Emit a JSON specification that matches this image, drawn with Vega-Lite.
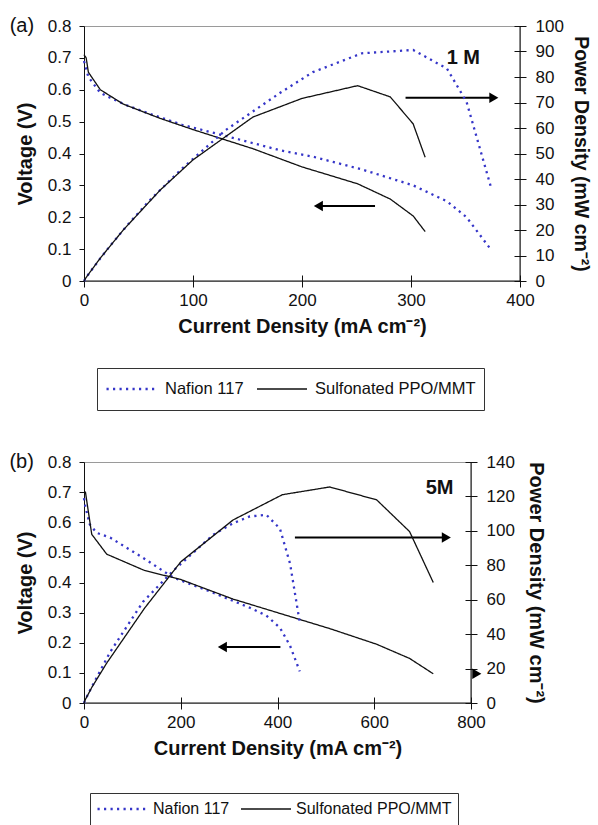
{
  "$schema": "https://vega.github.io/schema/vega-lite/v6.json",
  "background": "white",
  "padding": {"left": 8, "top": 15, "right": 0, "bottom": 0},
  "config": {
    "font": "Liberation Sans",
    "view": {"stroke": "#9a9a9a", "strokeWidth": 1},
    "axis": {"labelFont": "Liberation Sans", "labelFontSize": 17, "labelColor": "#111", "titleFont": "Liberation Sans", "titleFontSize": 20, "titleFontWeight": "bold", "titleColor": "#111", "domainColor": "#111", "tickColor": "#111", "grid": false, "labelFlush": false, "labelOverlap": false},
    "concat": {"spacing": 40}
  },
  "datasets": {
    "a": [
      {"series": "Nafion 117", "I": 0, "V": 0.69, "P": 0},
      {"series": "Nafion 117", "I": 4, "V": 0.64, "P": 2.6},
      {"series": "Nafion 117", "I": 15, "V": 0.59, "P": 8.9},
      {"series": "Nafion 117", "I": 24, "V": 0.575, "P": 13.8},
      {"series": "Nafion 117", "I": 40, "V": 0.55, "P": 22},
      {"series": "Nafion 117", "I": 60, "V": 0.525, "P": 31.5},
      {"series": "Nafion 117", "I": 90, "V": 0.49, "P": 44.1},
      {"series": "Nafion 117", "I": 130, "V": 0.455, "P": 59.2},
      {"series": "Nafion 117", "I": 180, "V": 0.41, "P": 73.8},
      {"series": "Nafion 117", "I": 210, "V": 0.39, "P": 81.9},
      {"series": "Nafion 117", "I": 255, "V": 0.35, "P": 89.3},
      {"series": "Nafion 117", "I": 302, "V": 0.3, "P": 90.6},
      {"series": "Nafion 117", "I": 333, "V": 0.25, "P": 83.3},
      {"series": "Nafion 117", "I": 351, "V": 0.2, "P": 70.2},
      {"series": "Nafion 117", "I": 373, "V": 0.1, "P": 37.3},
      {"series": "Sulfonated PPO/MMT", "I": 0, "V": 0.71, "P": 0},
      {"series": "Sulfonated PPO/MMT", "I": 2, "V": 0.7, "P": 1.4},
      {"series": "Sulfonated PPO/MMT", "I": 4, "V": 0.655, "P": 2.6},
      {"series": "Sulfonated PPO/MMT", "I": 15, "V": 0.6, "P": 9},
      {"series": "Sulfonated PPO/MMT", "I": 36, "V": 0.555, "P": 20},
      {"series": "Sulfonated PPO/MMT", "I": 70, "V": 0.51, "P": 35.7},
      {"series": "Sulfonated PPO/MMT", "I": 100, "V": 0.475, "P": 47.5},
      {"series": "Sulfonated PPO/MMT", "I": 155, "V": 0.415, "P": 64.3},
      {"series": "Sulfonated PPO/MMT", "I": 200, "V": 0.358, "P": 71.6},
      {"series": "Sulfonated PPO/MMT", "I": 251, "V": 0.305, "P": 76.6},
      {"series": "Sulfonated PPO/MMT", "I": 281, "V": 0.257, "P": 72.2},
      {"series": "Sulfonated PPO/MMT", "I": 302, "V": 0.204, "P": 61.6},
      {"series": "Sulfonated PPO/MMT", "I": 313, "V": 0.155, "P": 48.5}
    ],
    "b": [
      {"series": "Nafion 117", "I": 0, "V": 0.68, "P": 0},
      {"series": "Nafion 117", "I": 3, "V": 0.65, "P": 2},
      {"series": "Nafion 117", "I": 12, "V": 0.593, "P": 7.1},
      {"series": "Nafion 117", "I": 26, "V": 0.565, "P": 14.7},
      {"series": "Nafion 117", "I": 54, "V": 0.549, "P": 29.6},
      {"series": "Nafion 117", "I": 122, "V": 0.482, "P": 58.8},
      {"series": "Nafion 117", "I": 185, "V": 0.416, "P": 77},
      {"series": "Nafion 117", "I": 267, "V": 0.366, "P": 97.7},
      {"series": "Nafion 117", "I": 308, "V": 0.339, "P": 104.4},
      {"series": "Nafion 117", "I": 343, "V": 0.316, "P": 108.4},
      {"series": "Nafion 117", "I": 377, "V": 0.29, "P": 109.3},
      {"series": "Nafion 117", "I": 405, "V": 0.25, "P": 101.3},
      {"series": "Nafion 117", "I": 426, "V": 0.19, "P": 80.9},
      {"series": "Nafion 117", "I": 446, "V": 0.105, "P": 46.8},
      {"series": "Sulfonated PPO/MMT", "I": 0, "V": 0.7, "P": 0},
      {"series": "Sulfonated PPO/MMT", "I": 3, "V": 0.7, "P": 2.1},
      {"series": "Sulfonated PPO/MMT", "I": 16, "V": 0.56, "P": 9},
      {"series": "Sulfonated PPO/MMT", "I": 47, "V": 0.494, "P": 23.2},
      {"series": "Sulfonated PPO/MMT", "I": 125, "V": 0.44, "P": 55},
      {"series": "Sulfonated PPO/MMT", "I": 200, "V": 0.41, "P": 82},
      {"series": "Sulfonated PPO/MMT", "I": 308, "V": 0.345, "P": 106.3},
      {"series": "Sulfonated PPO/MMT", "I": 410, "V": 0.295, "P": 121},
      {"series": "Sulfonated PPO/MMT", "I": 508, "V": 0.247, "P": 125.5},
      {"series": "Sulfonated PPO/MMT", "I": 605, "V": 0.195, "P": 118},
      {"series": "Sulfonated PPO/MMT", "I": 673, "V": 0.148, "P": 99.6},
      {"series": "Sulfonated PPO/MMT", "I": 722, "V": 0.097, "P": 70}
    ],
    "arrowsA": [
      {"x1": 267, "x2": 215, "y": 0.235, "dir": "left"},
      {"x1": 295, "x2": 376, "y": 0.575, "dir": "right"}
    ],
    "arrowsB": [
      {"x1": 406, "x2": 286, "y": 0.186, "dir": "left"},
      {"x1": 436, "x2": 749, "y": 0.549, "dir": "right"},
      {"x1": 812, "x2": 812, "y": 0.097, "dir": "right"}
    ],
    "labelsA": [{"x": -57, "y": 0.8, "t": "(a)"}],
    "boldA": [{"x": 348, "y": 0.7, "t": "1 M"}],
    "labelsB": [{"x": -129, "y": 0.8, "t": "(b)"}],
    "boldB": [{"x": 735, "y": 0.715, "t": "5M"}]
  },
  "resolve": {"scale": {"color": "independent", "strokeDash": "independent", "strokeWidth": "independent"}},
  "vconcat": [
    {
      "width": 436,
      "height": 255,
      "resolve": {"scale": {"y": "independent"}},
      "layer": [
        {
          "layer": [
            {
              "data": {"name": "a"},
              "mark": {"type": "line"},
              "encoding": {
                "x": {"field": "I", "type": "quantitative", "scale": {"domain": [0, 400], "nice": false},
                  "axis": {"title": "Current Density (mA cm⁻²)", "values": [0, 100, 200, 300, 400], "offset": -6, "tickSize": 12, "domain": false, "labelPadding": 5, "titlePadding": 8, "labelOverlap": false}},
                "y": {"field": "V", "type": "quantitative", "scale": {"domain": [0, 0.8], "nice": false},
                  "axis": {"orient": "left", "title": "Voltage (V)", "values": [0, 0.1, 0.2, 0.3, 0.4, 0.5, 0.6, 0.7, 0.8], "tickCount": 9, "labelOverlap": false, "format": ".1~f", "tickSize": 5, "labelPadding": 8, "titlePadding": 12}},
                "color": {"field": "series", "type": "nominal",
                  "scale": {"domain": ["Nafion 117", "Sulfonated PPO/MMT"], "range": ["#3535c8", "#111111"]},
                  "legend": {"orient": "none", "legendX": 13, "legendY": 342, "direction": "horizontal", "title": null, "strokeColor": "#333", "padding": 8, "symbolType": "stroke", "symbolSize": 2500, "clipHeight": 26, "labelFontSize": 16.5, "labelFont": "Liberation Sans", "labelColor": "#111", "labelOffset": 7, "columnPadding": 12, "labelLimit": 300}},
                "strokeDash": {"field": "series", "type": "nominal", "scale": {"domain": ["Nafion 117", "Sulfonated PPO/MMT"], "range": [[2.2, 4.3], [1, 0]]}},
                "strokeWidth": {"field": "series", "type": "nominal", "scale": {"domain": ["Nafion 117", "Sulfonated PPO/MMT"], "range": [2.3, 1.3]}}
              }
            },
            {
              "data": {"values": [{}]},
              "mark": {"type": "rule", "color": "#111", "strokeWidth": 1},
              "encoding": {"y": {"datum": 0}}
            },
            {
              "data": {"name": "arrowsA"},
              "mark": {"type": "rule", "color": "#000", "strokeWidth": 2},
              "encoding": {"x": {"field": "x1", "type": "quantitative"}, "x2": {"field": "x2"}, "y": {"field": "y", "type": "quantitative"}}
            },
            {
              "data": {"name": "arrowsA"},
              "mark": {"type": "point", "filled": true, "color": "#000", "opacity": 1, "size": 110},
              "encoding": {"x": {"field": "x2", "type": "quantitative"}, "y": {"field": "y", "type": "quantitative"},
                "shape": {"field": "dir", "type": "nominal", "scale": {"domain": ["left", "right"], "range": ["triangle-left", "triangle-right"]}, "legend": null}}
            },
            {
              "data": {"name": "labelsA"},
              "mark": {"type": "text", "fontSize": 20, "color": "#111", "font": "Liberation Sans"},
              "encoding": {"x": {"field": "x", "type": "quantitative"}, "y": {"field": "y", "type": "quantitative"}, "text": {"field": "t"}}
            },
            {
              "data": {"name": "boldA"},
              "mark": {"type": "text", "fontSize": 20, "fontWeight": "bold", "color": "#111", "font": "Liberation Sans"},
              "encoding": {"x": {"field": "x", "type": "quantitative"}, "y": {"field": "y", "type": "quantitative"}, "text": {"field": "t"}}
            }
          ]
        },
        {
          "layer": [
            {
              "data": {"name": "a"},
              "mark": {"type": "line"},
              "encoding": {
                "x": {"field": "I", "type": "quantitative"},
                "y": {"field": "P", "type": "quantitative", "scale": {"domain": [0, 100], "nice": false},
                  "axis": {"orient": "right", "title": "Power Density (mW cm⁻²)", "values": [0, 10, 20, 30, 40, 50, 60, 70, 80, 90, 100], "labelOverlap": false, "offset": -6, "tickSize": 12, "domain": false, "labelPadding": 9, "titlePadding": 7, "titleFontSize": 19.5}},
                "color": {"field": "series", "type": "nominal"},
                "strokeDash": {"field": "series", "type": "nominal"},
                "strokeWidth": {"field": "series", "type": "nominal"}
              }
            },
            {
              "data": {"values": [{}]},
              "mark": {"type": "rule", "color": "#111", "strokeWidth": 1},
              "encoding": {"x": {"datum": 400}}
            }
          ]
        }
      ]
    },
    {
      "width": 387,
      "height": 241,
      "resolve": {"scale": {"y": "independent"}},
      "layer": [
        {
          "layer": [
            {
              "data": {"name": "b"},
              "mark": {"type": "line"},
              "encoding": {
                "x": {"field": "I", "type": "quantitative", "scale": {"domain": [0, 800], "nice": false},
                  "axis": {"title": "Current Density (mA cm⁻²)", "values": [0, 200, 400, 600, 800], "offset": -6, "tickSize": 12, "domain": false, "labelPadding": 5, "titlePadding": 8, "labelOverlap": false}},
                "y": {"field": "V", "type": "quantitative", "scale": {"domain": [0, 0.8], "nice": false},
                  "axis": {"orient": "left", "title": "Voltage (V)", "values": [0, 0.1, 0.2, 0.3, 0.4, 0.5, 0.6, 0.7, 0.8], "tickCount": 9, "labelOverlap": false, "format": ".1~f", "tickSize": 5, "labelPadding": 8, "titlePadding": 12}},
                "color": {"field": "series", "type": "nominal",
                  "scale": {"domain": ["Nafion 117", "Sulfonated PPO/MMT"], "range": ["#3535c8", "#111111"]},
                  "legend": {"orient": "none", "legendX": 6, "legendY": 331, "direction": "horizontal", "title": null, "strokeColor": "#333", "padding": 6, "symbolType": "stroke", "symbolSize": 2500, "clipHeight": 20, "labelFontSize": 16, "labelFont": "Liberation Sans", "labelColor": "#111", "labelOffset": 4, "columnPadding": 10, "labelLimit": 300}},
                "strokeDash": {"field": "series", "type": "nominal", "scale": {"domain": ["Nafion 117", "Sulfonated PPO/MMT"], "range": [[2.2, 4.3], [1, 0]]}},
                "strokeWidth": {"field": "series", "type": "nominal", "scale": {"domain": ["Nafion 117", "Sulfonated PPO/MMT"], "range": [2.3, 1.3]}}
              }
            },
            {
              "data": {"values": [{}]},
              "mark": {"type": "rule", "color": "#111", "strokeWidth": 1},
              "encoding": {"y": {"datum": 0}}
            },
            {
              "data": {"name": "arrowsB"},
              "mark": {"type": "rule", "color": "#000", "strokeWidth": 2},
              "encoding": {"x": {"field": "x1", "type": "quantitative"}, "x2": {"field": "x2"}, "y": {"field": "y", "type": "quantitative"}}
            },
            {
              "data": {"name": "arrowsB"},
              "mark": {"type": "point", "filled": true, "color": "#000", "opacity": 1, "size": 110},
              "encoding": {"x": {"field": "x2", "type": "quantitative"}, "y": {"field": "y", "type": "quantitative"},
                "shape": {"field": "dir", "type": "nominal", "scale": {"domain": ["left", "right"], "range": ["triangle-left", "triangle-right"]}, "legend": null}}
            },
            {
              "data": {"name": "labelsB"},
              "mark": {"type": "text", "fontSize": 20, "color": "#111", "font": "Liberation Sans"},
              "encoding": {"x": {"field": "x", "type": "quantitative"}, "y": {"field": "y", "type": "quantitative"}, "text": {"field": "t"}}
            },
            {
              "data": {"name": "boldB"},
              "mark": {"type": "text", "fontSize": 20, "fontWeight": "bold", "color": "#111", "font": "Liberation Sans"},
              "encoding": {"x": {"field": "x", "type": "quantitative"}, "y": {"field": "y", "type": "quantitative"}, "text": {"field": "t"}}
            }
          ]
        },
        {
          "layer": [
            {
              "data": {"name": "b"},
              "mark": {"type": "line"},
              "encoding": {
                "x": {"field": "I", "type": "quantitative"},
                "y": {"field": "P", "type": "quantitative", "scale": {"domain": [0, 140], "nice": false},
                  "axis": {"orient": "right", "title": "Power Density (mW cm⁻²)", "values": [0, 20, 40, 60, 80, 100, 120, 140], "labelOverlap": false, "offset": -6, "tickSize": 12, "domain": false, "labelPadding": 9, "titlePadding": 11}},
                "color": {"field": "series", "type": "nominal"},
                "strokeDash": {"field": "series", "type": "nominal"},
                "strokeWidth": {"field": "series", "type": "nominal"}
              }
            },
            {
              "data": {"values": [{}]},
              "mark": {"type": "rule", "color": "#111", "strokeWidth": 1},
              "encoding": {"x": {"datum": 800}}
            }
          ]
        }
      ]
    }
  ]
}
